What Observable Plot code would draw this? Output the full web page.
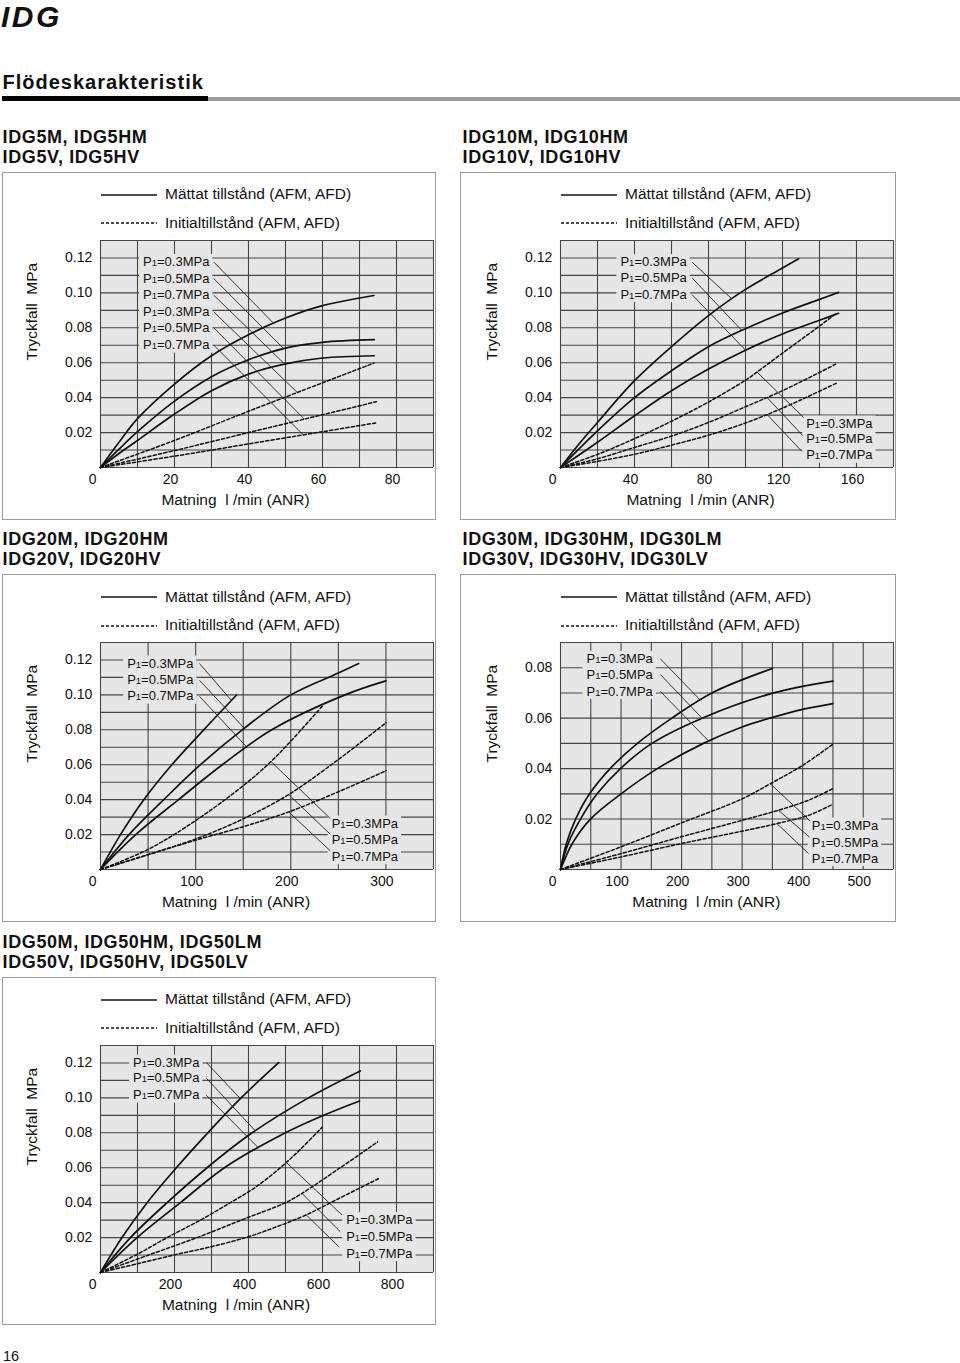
<!DOCTYPE html>
<html>
<head>
<meta charset="utf-8">
<script src="https://cdn.jsdelivr.net/npm/d3@7"></script>
<script src="https://cdn.jsdelivr.net/npm/@observablehq/plot@0.6"></script>
<style>
  html, body { margin: 0; padding: 0; background: #fff; }
  body { position: relative; width: 960px; height: 1363px; overflow: hidden;
         font-family: "Liberation Sans", Arial, Helvetica, sans-serif; color: #111; }
  .t { position: absolute; white-space: pre; line-height: 1; }
  .abs { position: absolute; }
</style>
</head>
<body>
<script>
// ------------------------------------------------------------------
// DATA
// Series are [flow, pressure drop] pairs. sat = Mättat tillstånd (solid),
// ini = Initialtillstånd (dashed); 03/05/07 = P1 0.3/0.5/0.7 MPa
// ------------------------------------------------------------------
const pressureLabels = ["P1=0.3MPa", "P1=0.5MPa", "P1=0.7MPa"];
const legendSolid = "Mättat tillstånd (AFM, AFD)";
const legendDashed = "Initialtillstånd (AFM, AFD)";
const xTitle = "Matning\u00a0\u00a0l\u00a0/min (ANR)";
const yTitle = "Tryckfall\u00a0\u00a0MPa";

// IDG5
const idg5Titles = ["IDG5M, IDG5HM", "IDG5V, IDG5HV"];
const idg5XTicks = [20, 40, 60, 80];
const idg5YTicks = [0.02, 0.04, 0.06, 0.08, 0.10, 0.12];
const idg5Sat03 = [[0,0],[5,0.0145],[10,0.028],[20,0.0478],[30,0.064],[40,0.076],[50,0.0856],[60,0.0927],[73.9,0.0985]];
const idg5Sat05 = [[0,0],[5,0.0105],[10,0.0205],[20,0.038],[30,0.052],[40,0.0617],[50,0.0684],[60,0.0717],[74,0.0732]];
const idg5Sat07 = [[0,0],[5,0.008],[10,0.0155],[20,0.0306],[30,0.044],[40,0.0535],[50,0.0593],[60,0.0627],[74,0.064]];
const idg5Ini03 = [[0,0],[20,0.0155],[40,0.0322],[60,0.0485],[73.9,0.0598]];
const idg5Ini05 = [[0,0],[20,0.0097],[40,0.0200],[60,0.0302],[74.6,0.0377]];
const idg5Ini07 = [[0,0],[20,0.0065],[40,0.0135],[60,0.0205],[74.6,0.0256]];

// IDG10
const idg10Titles = ["IDG10M, IDG10HM", "IDG10V, IDG10HV"];
const idg10XTicks = [40, 80, 120, 160];
const idg10YTicks = [0.02, 0.04, 0.06, 0.08, 0.10, 0.12];
const idg10Sat03 = [[0,0],[10,0.0135],[20,0.0258],[40,0.0497],[60,0.0692],[80,0.087],[100,0.102],[120,0.1142],[128.7,0.1195]];
const idg10Sat05 = [[0,0],[20,0.021],[40,0.040],[60,0.0554],[80,0.0692],[100,0.0795],[120,0.0885],[140,0.0963],[150.3,0.1003]];
const idg10Sat07 = [[0,0],[20,0.0145],[40,0.0296],[60,0.044],[80,0.0564],[100,0.0672],[120,0.0765],[140,0.0843],[150.3,0.0883]];
const idg10Ini03 = [[0,0],[20,0.0075],[40,0.0165],[60,0.0265],[80,0.0375],[100,0.050],[106,0.0545],[120,0.0655],[140,0.081],[149.4,0.0885]];
const idg10Ini05 = [[0,0],[20,0.005],[40,0.0115],[60,0.018],[80,0.0258],[100,0.0348],[120,0.044],[149,0.0593]];
const idg10Ini07 = [[0,0],[20,0.0035],[40,0.0076],[60,0.0128],[80,0.0185],[100,0.0255],[120,0.034],[150,0.0487]];

// IDG20
const idg20Titles = ["IDG20M, IDG20HM", "IDG20V, IDG20HV"];
const idg20XTicks = [100, 200, 300];
const idg20YTicks = [0.02, 0.04, 0.06, 0.08, 0.10, 0.12];
const idg20Sat03 = [[0,0],[21,0.02],[45.5,0.04],[75,0.06],[108.5,0.08],[142.8,0.0998]];
const idg20Sat05 = [[0,0],[30,0.02],[66.5,0.04],[105,0.06],[149,0.08],[200,0.10],[250,0.1125],[271.3,0.118]];
const idg20Sat07 = [[0,0],[37,0.02],[82,0.04],[128,0.06],[180,0.08],[257,0.10],[300,0.108]];
const idg20Ini03 = [[0,0],[50,0.0115],[100,0.028],[150,0.048],[179,0.0617],[200,0.0735],[233,0.0935]];
const idg20Ini05 = [[0,0],[50,0.0085],[100,0.0175],[150,0.029],[198,0.043],[250,0.063],[300,0.084]];
const idg20Ini07 = [[0,0],[50,0.0085],[100,0.0168],[150,0.0245],[198,0.033],[250,0.0445],[300,0.0565]];

// IDG30
const idg30Titles = ["IDG30M, IDG30HM, IDG30LM", "IDG30V, IDG30HV, IDG30LV"];
const idg30XTicks = [100, 200, 300, 400, 500];
const idg30YTicks = [0.02, 0.04, 0.06, 0.08];
const idg30Sat03 = [[0,0],[10,0.0105],[25,0.02],[48,0.03],[82,0.04],[127,0.05],[184,0.06],[250,0.07],[350,0.0797]];
const idg30Sat05 = [[0,0],[13,0.0105],[33,0.02],[60.5,0.03],[99,0.04],[151,0.05],[234,0.06],[352,0.07],[450,0.0747]];
const idg30Sat07 = [[0,0],[20,0.0105],[49.5,0.02],[100,0.030],[160,0.040],[236,0.050],[300,0.0565],[346,0.060],[400,0.0635],[450,0.0658]];
const idg30Ini03 = [[0,0],[100,0.009],[200,0.0185],[300,0.028],[346.5,0.034],[400,0.0413],[450,0.0497]];
const idg30Ini05 = [[0,0],[100,0.0063],[200,0.013],[300,0.0195],[360,0.0235],[410,0.0275],[450,0.0321]];
const idg30Ini07 = [[0,0],[100,0.005],[200,0.0103],[300,0.0152],[357.5,0.0182],[410,0.0215],[450,0.0259]];

// IDG50
const idg50Titles = ["IDG50M, IDG50HM, IDG50LM", "IDG50V, IDG50HV, IDG50LV"];
const idg50XTicks = [200, 400, 600, 800];
const idg50YTicks = [0.02, 0.04, 0.06, 0.08, 0.10, 0.12];
const idg50Sat03 = [[0,0],[58,0.02],[126,0.04],[205,0.06],[290,0.08],[380,0.10],[481.5,0.1202]];
const idg50Sat05 = [[0,0],[81,0.02],[180,0.04],[288,0.06],[410,0.08],[562,0.10],[702,0.1154]];
const idg50Sat07 = [[0,0],[99,0.02],[216,0.04],[335,0.06],[500,0.08],[603,0.09],[700,0.0982]];
const idg50Ini03 = [[0,0],[100,0.0105],[180,0.02],[270,0.030],[351,0.04],[420,0.049],[486,0.06],[540,0.0705],[598.5,0.0831]];
const idg50Ini05 = [[0,0],[130,0.01],[261,0.02],[380,0.030],[500,0.04],[544.5,0.0453],[648,0.06],[749,0.0748]];
const idg50Ini07 = [[0,0],[100,0.005],[200,0.0101],[300,0.0148],[400,0.0205],[480,0.0265],[556,0.033],[650,0.043],[751,0.0537]];

// ------------------------------------------------------------------
// Annotation anchors (label text left x, row y; leader label-side point; leader target x on curve)
// ------------------------------------------------------------------
const idg5Labels = [{x: 11.5, rows: [
  {y: 0.1177, lx: 30.6, tx: 46.8, key: "sat03"},
  {y: 0.1082, lx: 30.6, tx: 49.5, key: "sat05"},
  {y: 0.0987, lx: 30.6, tx: 49.8, key: "sat07"},
  {y: 0.0891, lx: 30.6, tx: 53.2, key: "ini03"},
  {y: 0.0800, lx: 30.6, tx: 55.1, key: "ini05"},
  {y: 0.0701, lx: 30.6, tx: 54.8, key: "ini07"}]}];
const idg10Labels = [
  {x: 32.4, rows: [
    {y: 0.1176, lx: 71.1, tx: 92.7, key: "sat03"},
    {y: 0.1086, lx: 71.1, tx: 98, key: "sat05"},
    {y: 0.0990, lx: 71.1, tx: 100, key: "sat07"}]},
  {x: 132.8, rows: [
    {y: 0.0252, lx: 131.4, ly: 0.0287, tx: 106.2, key: "ini03"},
    {y: 0.0163, lx: 131.0, ly: 0.0182, tx: 111.6, key: "ini05"},
    {y: 0.0070, lx: 130.5, ly: 0.0092, tx: 111.6, key: "ini07"}]}];
const idg20Labels = [
  {x: 28, rows: [
    {y: 0.1180, lx: 104, tx: 137.6, key: "sat03"},
    {y: 0.1084, lx: 104, tx: 151.2, key: "sat05"},
    {y: 0.0992, lx: 104, tx: 154, key: "sat07"}]},
  {x: 243, rows: [
    {y: 0.0263, lx: 241.5, ly: 0.0292, tx: 179.2, key: "ini03"},
    {y: 0.0168, lx: 241.5, ly: 0.0202, tx: 197.8, key: "ini05"},
    {y: 0.0073, lx: 241.5, ly: 0.0107, tx: 197.8, key: "ini07"}]}];
const idg30Labels = [
  {x: 42.9, rows: [
    {y: 0.0835, lx: 165, tx: 231, key: "sat03"},
    {y: 0.0773, lx: 165, tx: 233.8, key: "sat05"},
    {y: 0.0706, lx: 165, tx: 244.8, key: "sat07"}]},
  {x: 415, rows: [
    {y: 0.0174, lx: 412.5, ly: 0.0192, tx: 346.5, key: "ini03"},
    {y: 0.0107, lx: 411.4, ly: 0.0128, tx: 360, key: "ini05"},
    {y: 0.0044, lx: 409.8, ly: 0.0063, tx: 357.5, key: "ini07"}]}];
const idg50Labels = [
  {x: 88, rows: [
    {y: 0.1203, lx: 286, tx: 378, key: "sat03"},
    {y: 0.1113, lx: 286, tx: 418.5, key: "sat05"},
    {y: 0.1015, lx: 286, tx: 427.5, key: "sat07"}]},
  {x: 664, rows: [
    {y: 0.0300, lx: 652.5, ly: 0.0330, tx: 502, key: "ini03"},
    {y: 0.0204, lx: 648, ly: 0.0234, tx: 544.5, key: "ini05"},
    {y: 0.0108, lx: 645, ly: 0.0145, tx: 556, key: "ini07"}]}];

// ------------------------------------------------------------------
const FONT = '"Liberation Sans", Arial, Helvetica, sans-serif';
const BG = "#e6e6e6";
const GRID = "#454545";
const INK = "#111";

function mk(series) {
  return [
    {key: "sat03", pts: series[0], dashed: false},
    {key: "sat05", pts: series[1], dashed: false},
    {key: "sat07", pts: series[2], dashed: false},
    {key: "ini03", pts: series[3], dashed: true},
    {key: "ini05", pts: series[4], dashed: true},
    {key: "ini07", pts: series[5], dashed: true}
  ];
}

const panels = [
  {fx: 100, fy: 240, boxL: 2, xMax: 90, xStep: 10, yMax: 0.13, xTicks: idg5XTicks, yTicks: idg5YTicks,
   titles: idg5Titles, xLabelDx: -31.5, labels: idg5Labels,
   series: mk([idg5Sat03, idg5Sat05, idg5Sat07, idg5Ini03, idg5Ini05, idg5Ini07])},
  {fx: 560, fy: 240, boxL: 459.5, xMax: 180, xStep: 20, yMax: 0.13, xTicks: idg10XTicks, yTicks: idg10YTicks,
   titles: idg10Titles, xLabelDx: -26.5, labels: idg10Labels,
   series: mk([idg10Sat03, idg10Sat05, idg10Sat07, idg10Ini03, idg10Ini05, idg10Ini07])},
  {fx: 100, fy: 642.3, boxL: 2, xMax: 350, xStep: 50, yMax: 0.13, xTicks: idg20XTicks, yTicks: idg20YTicks,
   titles: idg20Titles, xLabelDx: -31, labels: idg20Labels,
   series: mk([idg20Sat03, idg20Sat05, idg20Sat07, idg20Ini03, idg20Ini05, idg20Ini07])},
  {fx: 560, fy: 642.3, boxL: 459.5, xMax: 550, xStep: 50, yMax: 0.09, xTicks: idg30XTicks, yTicks: idg30YTicks,
   titles: idg30Titles, xLabelDx: -20.7, labels: idg30Labels,
   series: mk([idg30Sat03, idg30Sat05, idg30Sat07, idg30Ini03, idg30Ini05, idg30Ini07])},
  {fx: 100, fy: 1045, boxL: 2, xMax: 900, xStep: 100, yMax: 0.13, xTicks: idg50XTicks, yTicks: idg50YTicks,
   titles: idg50Titles, xLabelDx: -31, labels: idg50Labels,
   series: mk([idg50Sat03, idg50Sat05, idg50Sat07, idg50Ini03, idg50Ini05, idg50Ini07])}
];

// ------------------------------------------------------------------
// helpers
// ------------------------------------------------------------------
function addText(str, x, baseline, fs, extra = {}) {
  const d = document.createElement("div");
  d.className = "t";
  d.textContent = str;
  d.style.left = x + "px";
  d.style.top = (baseline - 0.8465 * fs) + "px";
  d.style.fontSize = fs + "px";
  Object.assign(d.style, extra);
  document.body.appendChild(d);
  return d;
}
function addBox(x, y, w, h, css) {
  const d = document.createElement("div");
  d.className = "abs";
  Object.assign(d.style, {left: x + "px", top: y + "px", width: w + "px", height: h + "px"}, css);
  document.body.appendChild(d);
  return d;
}
function addLegendLine(x, y, len, dashed) {
  const ns = "http://www.w3.org/2000/svg";
  const s = document.createElementNS(ns, "svg");
  s.setAttribute("width", len); s.setAttribute("height", 4);
  s.style.position = "absolute"; s.style.left = x + "px"; s.style.top = (y - 2) + "px";
  const l = document.createElementNS(ns, "line");
  l.setAttribute("x1", 0); l.setAttribute("x2", len);
  l.setAttribute("y1", 2); l.setAttribute("y2", 2);
  l.setAttribute("stroke", INK); l.setAttribute("stroke-width", 1.3);
  if (dashed) l.setAttribute("stroke-dasharray", "3,2");
  s.appendChild(l);
  document.body.appendChild(s);
}
const ctx = document.createElement("canvas").getContext("2d");
function measureLabel(s) {
  ctx.font = "13px " + FONT;
  const a = ctx.measureText("P" + s.slice(2)).width;
  ctx.font = "9.5px " + FONT;
  return a + ctx.measureText("1").width;
}
function interp(pts, x) {
  for (let i = 1; i < pts.length; i++) {
    if (x <= pts[i][0]) {
      const [x0, y0] = pts[i - 1], [x1, y1] = pts[i];
      return y0 + (y1 - y0) * (x - x0) / (x1 - x0);
    }
  }
  return pts[pts.length - 1][1];
}

// ------------------------------------------------------------------
// page header
// ------------------------------------------------------------------
addText("IDG", 1, 27.3, 30, {fontWeight: "bold", fontStyle: "italic", letterSpacing: "2.5px"});
addText("Flödeskarakteristik", 2.5, 89.3, 20, {fontWeight: "bold", letterSpacing: "1px"});
addBox(208, 96.5, 752, 4, {background: "#9a9a9a"});
addBox(2, 96, 206, 5, {background: "#000"});
addText("16", 3, 1361.5, 14.5);

// ------------------------------------------------------------------
// panels
// ------------------------------------------------------------------
const W = 435, H = 347, ML = 100, MR = 2, MT = 68, MB = 52;
const frameW = W - ML - MR;

for (const p of panels) {
  const {fx, fy} = p;
  // border box
  addBox(p.boxL, fy - 68.5, (fx + frameW + 2) - p.boxL - 1, 68.5 + 227 + 52 - 1,
         {border: "1px solid #9c9c9c", boxSizing: "content-box"});
  // titles
  addText(p.titles[0], fx - 97.4, fy - 96.7, 18, {fontWeight: "bold", letterSpacing: "0.6px"});
  addText(p.titles[1], fx - 97.4, fy - 76.7, 18, {fontWeight: "bold", letterSpacing: "0.6px"});
  // legend
  addLegendLine(fx + 0.7, fy - 45, 56, false);
  addText(legendSolid, fx + 65, fy - 40.6, 15.5);
  addLegendLine(fx + 0.7, fy - 16.8, 56, true);
  addText(legendDashed, fx + 65, fy - 12.3, 15.5);

  const pxPerX = frameW / p.xMax;
  const xGrid = d3.range(0, Math.round(p.xMax / p.xStep) + 1).map(i => i * p.xStep);
  const yGrid = d3.range(0, Math.round(p.yMax / 0.01) + 1).map(i => +(i * 0.01).toFixed(2));
  const byKey = Object.fromEntries(p.series.map(s => [s.key, s]));
  const solidRows = [], dashedRows = [];
  for (const s of p.series) for (const [x, y] of s.pts) (s.dashed ? dashedRows : solidRows).push({x, y, key: s.key});

  const textRows = [], leaders = [], blocks = [];
  for (const g of p.labels) {
    let wmax = 0;
    g.rows.forEach(r => {
      const txt = pressureLabels[["03", "05", "07"].indexOf(r.key.slice(3))];
      textRows.push({x: g.x, y: r.y, text: txt});
      wmax = Math.max(wmax, measureLabel(txt));
      leaders.push({x1: r.lx, y1: r.ly ?? r.y, x2: r.tx, y2: interp(byKey[r.key].pts, r.tx)});
    });
    const ys = g.rows.map(r => r.y);
    blocks.push({x1: g.x, x2: g.x + wmax / pxPerX, y1: d3.min(ys), y2: d3.max(ys)});
  }

  const chart = Plot.plot({
    width: W, height: H, marginLeft: ML, marginRight: MR, marginTop: MT, marginBottom: MB,
    x: {domain: [0, p.xMax], axis: null},
    y: {domain: [0, p.yMax], axis: null},
    style: {fontFamily: FONT, fontSize: "14px", color: INK, background: "transparent", overflow: "visible"},
    marks: [
      Plot.frame({fill: BG, stroke: null}),
      Plot.ruleX(xGrid, {x: d => d, stroke: GRID, strokeWidth: 1.1}),
      Plot.ruleY(yGrid, {y: d => d, stroke: GRID, strokeWidth: 1.1}),
      Plot.rect(blocks, {x1: "x1", x2: "x2", y1: "y1", y2: "y2", fill: BG,
                         insetLeft: -3.5, insetRight: -3.5, insetTop: -7.5, insetBottom: -8}),
      Plot.line(solidRows, {x: "x", y: "y", z: "key", stroke: INK, strokeWidth: 1.7, curve: "catmull-rom"}),
      Plot.line(dashedRows, {x: "x", y: "y", z: "key", stroke: INK, strokeWidth: 1.5,
                             strokeDasharray: "3.2,2.2", curve: "catmull-rom"}),
      Plot.link(leaders, {x1: "x1", y1: "y1", x2: "x2", y2: "y2", stroke: "#222", strokeWidth: 0.9}),
      Plot.text(textRows, {x: "x", y: "y", text: "text", textAnchor: "start", fontSize: 13, fill: INK}),
      Plot.text(p.yTicks, {y: d => d, text: d => d3.format(".2f")(d), frameAnchor: "left",
                           textAnchor: "end", dx: -8.3, fontSize: 14, fill: INK}),
      Plot.text(p.xTicks, {x: d => d, text: d => String(d), frameAnchor: "bottom",
                           dy: 16.3, dx: -4, fontSize: 14, fill: INK}),
      Plot.text(["0"], {text: d => d, frameAnchor: "bottom-left", dy: 16.3, dx: -11.7, fontSize: 14, fill: INK}),
      Plot.text([xTitle], {text: d => d, frameAnchor: "bottom", dy: 37.5, dx: p.xLabelDx, fontSize: 15.5, fill: INK}),
      Plot.text([yTitle], {text: d => d, frameAnchor: "left", rotate: -90, dx: -68.3, dy: 6.5, fontSize: 15.5, fill: INK})
    ]
  });

  // subscript "1" in P1
  const ns = "http://www.w3.org/2000/svg";
  chart.querySelectorAll("text").forEach(t => {
    const s = t.textContent;
    if (s.startsWith("P1=")) {
      t.textContent = "P";
      const sub = document.createElementNS(ns, "tspan");
      sub.setAttribute("font-size", "9.5");
      sub.textContent = "1";
      const rest = document.createElementNS(ns, "tspan");
      rest.textContent = s.slice(2);
      t.appendChild(sub); t.appendChild(rest);
    }
  });

  chart.style.position = "absolute";
  chart.style.left = (fx - ML) + "px";
  chart.style.top = (fy - MT) + "px";
  document.body.appendChild(chart);
}
</script>
</body>
</html>
